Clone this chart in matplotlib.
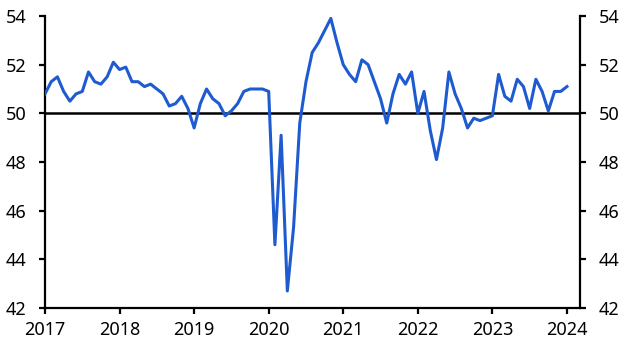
import numpy as np
import matplotlib.pyplot as plt

plt.rcParams['font.family'] = ['Noto Sans', 'DejaVu Sans']

# monthly index, Jan 2017 - Jan 2024
values = [
    50.8, 51.3, 51.5, 50.9, 50.5, 50.8, 50.9, 51.7, 51.3, 51.2, 51.5, 52.1,  # 2017
    51.8, 51.9, 51.3, 51.3, 51.1, 51.2, 51.0, 50.8, 50.3, 50.4, 50.7, 50.2,  # 2018
    49.4, 50.4, 51.0, 50.6, 50.4, 49.9, 50.1, 50.4, 50.9, 51.0, 51.0, 51.0,  # 2019
    50.9, 44.6, 49.1, 42.7, 45.3, 49.6, 51.3, 52.5, 52.9, 53.4, 53.9, 52.9,  # 2020
    52.0, 51.6, 51.3, 52.2, 52.0, 51.3, 50.6, 49.6, 50.8, 51.6, 51.2, 51.7,  # 2021
    50.0, 50.9, 49.3, 48.1, 49.4, 51.7, 50.8, 50.2, 49.4, 49.8, 49.7, 49.8,  # 2022
    49.9, 51.6, 50.7, 50.5, 51.4, 51.1, 50.2, 51.4, 50.9, 50.1, 50.9, 50.9,  # 2023
    51.1,                                                                    # 2024
]
years = [2017, 2018, 2019, 2020, 2021, 2022, 2023, 2024]
yticks = [42, 44, 46, 48, 50, 52, 54]

x = 2017 + np.arange(len(values)) / 12.0

fig = plt.figure(figsize=(6.29, 3.54), dpi=100)
ax = fig.add_axes([45/629, 1 - 308/354, 535/629, 292/354])

ax.axhline(50, color='black', lw=1.8, zorder=2)
ax.plot(x, values, color='#1f5bd0', lw=2.2, zorder=3)

ax.set_xlim(2017, 2024.175)
ax.set_ylim(42, 54)
ax.set_xticks(years)
ax.set_yticks(yticks)

ax.spines['top'].set_visible(False)
for s in ['left', 'right', 'bottom']:
    ax.spines[s].set_linewidth(1.6)
ax.tick_params(axis='both', direction='out', width=1.6, length=4.5, labelsize=13,
               colors='black')
ax.tick_params(axis='y', left=True, right=True, labelleft=True, labelright=True, pad=9)
ax.tick_params(axis='x', pad=5)

fig.savefig('out.png', dpi=100)
